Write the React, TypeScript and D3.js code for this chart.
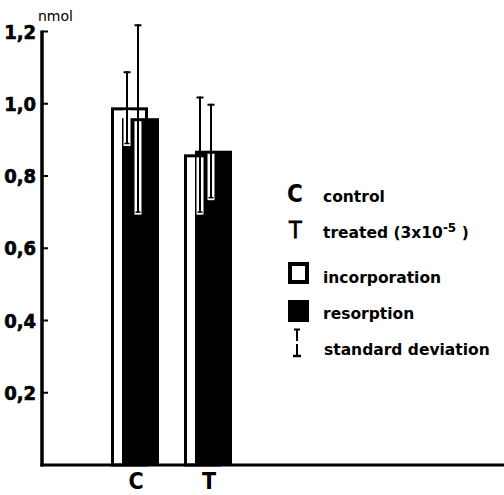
import React from 'react';
import * as d3 from 'd3';

const groups = ['C', 'T'];
const incorporation = [0.99, 0.86];
const incorporationSd = [0.1, 0.16];
const resorption = [0.96, 0.87];
const resorptionSd = [0.26, 0.13];
const yTicks = [0.2, 0.4, 0.6, 0.8, 1.0, 1.2];

const width = 504;
const height = 495;

const App = () => {
  const y = d3.scaleLinear().domain([0, 1.2]).range([465, 31.5]);
  const x = d3.scaleBand().domain(groups).range([111, 232]).paddingInner(0.3425);
  const barW = 37;
  const axisX = 42;
  const base = y(0);
  const fmt = (v: number) => d3.format('.1f')(v).replace('.', ',');

  const errorBar = (cx: number, mean: number, sd: number, key: string) => {
    const top = y(mean + sd);
    const bot = y(mean - sd);
    return (
      <g key={key}>
        <rect x={cx - 3.5} y={y(mean) + 3} width={7} height={bot - y(mean) - 0.5} fill="#fff" />
        <line x1={cx} x2={cx} y1={top} y2={bot} stroke="#000" strokeWidth={2} />
        <line x1={cx - 3.5} x2={cx + 3.5} y1={top + 1} y2={top + 1} stroke="#000" strokeWidth={2} />
        <line x1={cx - 2.5} x2={cx + 2.5} y1={bot} y2={bot} stroke="#000" strokeWidth={1.5} />
      </g>
    );
  };

  const legendFont = 'DejaVu Sans, sans-serif';
  const narrow = '"Liberation Sans Narrow", "DejaVu Sans Condensed", "Liberation Sans", sans-serif';

  return (
    <svg width={width} height={height} style={{ position: 'absolute', left: 0, top: 0, background: '#fff' }}>
      {/* bars */}
      {groups.map((g, i) => {
        const x0 = x(g) as number;
        const x1 = x0 + x.bandwidth() - barW;
        return (
          <g key={g}>
            <rect
              x={x0 + 1.5}
              y={y(incorporation[i]) + 1.5}
              width={barW - 3}
              height={base - y(incorporation[i]) - 1.5}
              fill="#fff"
              stroke="#000"
              strokeWidth={3}
            />
            <rect x={x1} y={y(resorption[i])} width={barW} height={base - y(resorption[i])} fill="#000" />
            {errorBar(x0 + barW / 2 - 2.5, incorporation[i], incorporationSd[i], 'ei' + g)}
            {errorBar(x1 + barW / 2 - 2.5, resorption[i], resorptionSd[i], 'er' + g)}
          </g>
        );
      })}

      {/* axes */}
      <line x1={axisX} x2={axisX} y1={y(1.2) - 1} y2={base + 1.5} stroke="#000" strokeWidth={3.5} />
      <line x1={axisX - 1.5} x2={width} y1={base} y2={base} stroke="#000" strokeWidth={3} />
      {yTicks.map((t) => (
        <g key={t}>
          <line x1={axisX} x2={axisX + 6} y1={y(t)} y2={y(t)} stroke="#000" strokeWidth={2} />
          <text
            x={36}
            y={y(t)}
            dy="0.36em"
            textAnchor="end"
            fontFamily={narrow}
            fontWeight="bold"
            fontSize={20}
            stroke="#000"
            strokeWidth={0.6}
          >
            {fmt(t)}
          </text>
        </g>
      ))}
      <text x={38} y={21} fontFamily={legendFont} fontSize={14}>
        nmol
      </text>
      {groups.map((g) => (
        <text
          key={'l' + g}
          x={(x(g) as number) + x.bandwidth() / 2 + 1}
          y={489}
          textAnchor="middle"
          fontFamily={narrow}
          fontWeight="bold"
          fontSize={23}
        >
          {g}
        </text>
      ))}

      {/* legend */}
      <g fontFamily={legendFont} fontWeight="bold" fontSize={15.5}>
        <text x={287} y={202} fontFamily={narrow} fontWeight="bold" fontSize={24}>C</text>
        <text x={323} y={202}>control</text>
        <text x={289} y={238} fontFamily={narrow} fontWeight="normal" fontSize={23} stroke="#000" strokeWidth={0.8}>T</text>
        <text x={323} y={238}>
          treated (3x10
          <tspan dy={-6} fontSize={12}>-5</tspan>
          <tspan dy={6}> )</tspan>
        </text>
        <rect x={290} y={264} width={17} height={18} fill="#fff" stroke="#000" strokeWidth={4} />
        <text x={323} y={283}>incorporation</text>
        <rect x={288} y={300} width={21} height={22} fill="#000" />
        <text x={323} y={319}>resorption</text>
        <line x1={297} x2={297} y1={329} y2={341} stroke="#000" strokeWidth={2} />
        <line x1={294} x2={300} y1={329.5} y2={329.5} stroke="#000" strokeWidth={2} />
        <line x1={297} x2={297} y1={344} y2={356} stroke="#000" strokeWidth={2} />
        <line x1={293} x2={301} y1={356} y2={356} stroke="#000" strokeWidth={2.5} />
        <text x={324} y={355}>standard deviation</text>
      </g>
    </svg>
  );
};

export default App;
